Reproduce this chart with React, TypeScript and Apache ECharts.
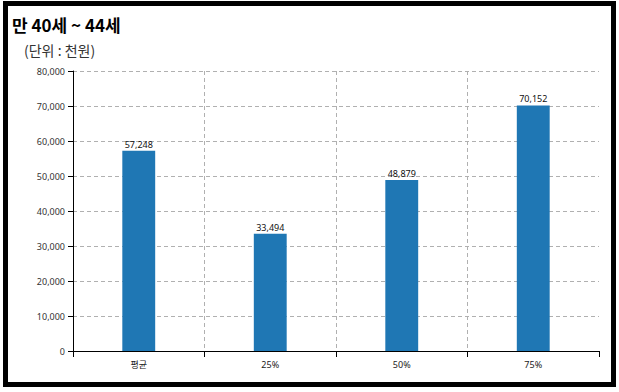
import React, { useEffect, useRef } from "react";
import * as echarts from "echarts";

const categories = ["평균", "25%", "50%", "75%"];
const values = [57248, 33494, 48879, 70152];
const titleText = "만 40세 ~ 44세";
const unitText = "(단위 : 천원)";

export default function App() {
  const ref = useRef<HTMLDivElement>(null);
  useEffect(() => {
    if (!ref.current) return;
    const chart = echarts.init(ref.current, undefined, { renderer: "svg" });
    const font = "'Noto Sans', 'Noto Sans CJK KR', sans-serif";
    chart.setOption({
      animation: false,
      backgroundColor: "#fff",
      title: [
        {
          text: titleText,
          left: 12,
          top: 16,
          padding: 0,
          textStyle: { fontSize: 17, fontWeight: "bold", color: "#000", fontFamily: "'Noto Sans CJK KR', sans-serif" },
        },
        {
          text: unitText,
          left: 24,
          top: 43,
          padding: 0,
          textStyle: { fontSize: 14, fontWeight: "normal", color: "#333", fontFamily: "'Noto Sans CJK KR', sans-serif" },
        },
      ],
      grid: { left: 73, right: 20, top: 71, bottom: 41, containLabel: false },
      xAxis: {
        type: "category",
        data: categories,
        axisLine: { lineStyle: { color: "#000", width: 1 } },
        axisTick: { show: true, length: 6, lineStyle: { color: "#000" } },
        axisLabel: { fontSize: 9, color: "#222", margin: 9, fontFamily: font },
        splitLine: {
          show: true,
          showMinLine: false,
          showMaxLine: false,
          lineStyle: { color: "#b0b0b0", type: [4, 3], width: 1 },
        },
      },
      yAxis: {
        type: "value",
        min: 0,
        max: 80000,
        interval: 10000,
        axisLine: { show: true, lineStyle: { color: "#000", width: 1 } },
        axisTick: { show: true, length: 5, lineStyle: { color: "#000" } },
        axisLabel: {
          fontSize: 9,
          color: "#333",
          margin: 8,
          fontFamily: font,
          formatter: (v: number) => v.toLocaleString("en-US"),
        },
        splitLine: { show: true, lineStyle: { color: "#b0b0b0", type: [4, 3], width: 1 } },
      },
      series: [
        {
          type: "bar",
          data: values,
          barWidth: "25%",
          itemStyle: { color: "#1f77b4" },
          label: {
            show: true,
            position: "top",
            distance: 2,
            fontSize: 9,
            color: "#111",
            fontFamily: font,
            formatter: (p: any) => Number(p.value).toLocaleString("en-US"),
          },
        },
      ],
    });
    return () => chart.dispose();
  }, []);
  return (
    <div style={{ position: "absolute", left: 0, top: 0, width: 619, height: 392, background: "#fff" }}>
      <div ref={ref} style={{ position: "absolute", left: 0, top: 0, width: 619, height: 392 }} />
      <div
        style={{
          position: "absolute",
          left: 3,
          top: 1,
          width: 613,
          height: 386,
          border: "5px solid #000",
          boxSizing: "border-box",
          pointerEvents: "none",
        }}
      />
    </div>
  );
}
